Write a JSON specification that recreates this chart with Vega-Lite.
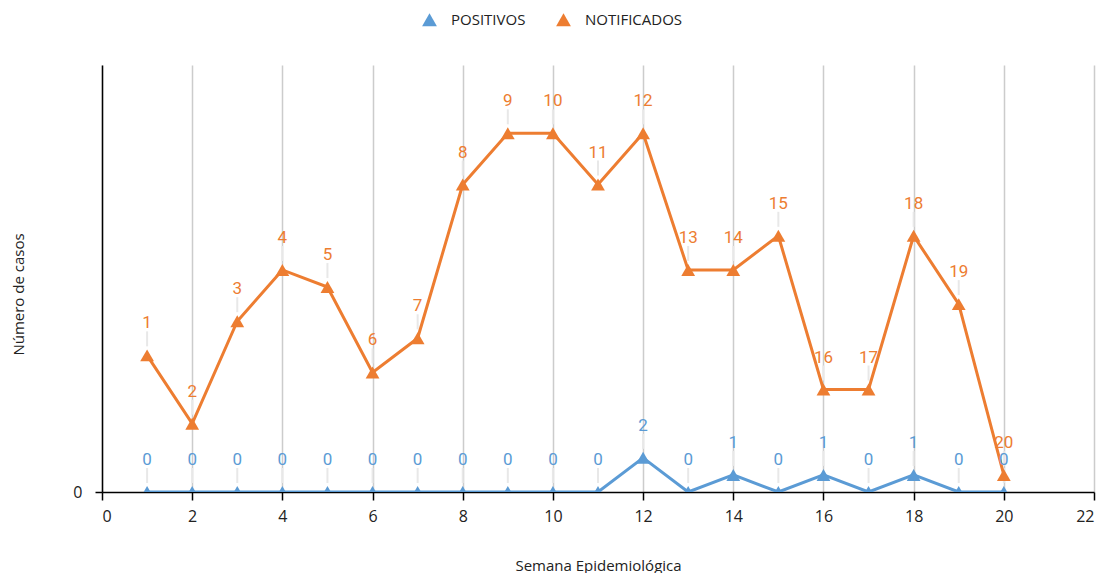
{
  "$schema": "https://vega.github.io/schema/vega-lite/v6.json",
  "width": 992,
  "height": 427,
  "autosize": {"type": "none"},
  "padding": {"left": 102, "top": 65, "right": 11, "bottom": 81},
  "background": "white",
  "config": {"view": {"stroke": null}, "font": "Open Sans"},
  "data": {"values": [
    {"semana": 1, "serie": "POSITIVOS", "valor": 0, "etiqueta": "0"},
    {"semana": 2, "serie": "POSITIVOS", "valor": 0, "etiqueta": "0"},
    {"semana": 3, "serie": "POSITIVOS", "valor": 0, "etiqueta": "0"},
    {"semana": 4, "serie": "POSITIVOS", "valor": 0, "etiqueta": "0"},
    {"semana": 5, "serie": "POSITIVOS", "valor": 0, "etiqueta": "0"},
    {"semana": 6, "serie": "POSITIVOS", "valor": 0, "etiqueta": "0"},
    {"semana": 7, "serie": "POSITIVOS", "valor": 0, "etiqueta": "0"},
    {"semana": 8, "serie": "POSITIVOS", "valor": 0, "etiqueta": "0"},
    {"semana": 9, "serie": "POSITIVOS", "valor": 0, "etiqueta": "0"},
    {"semana": 10, "serie": "POSITIVOS", "valor": 0, "etiqueta": "0"},
    {"semana": 11, "serie": "POSITIVOS", "valor": 0, "etiqueta": "0"},
    {"semana": 12, "serie": "POSITIVOS", "valor": 2, "etiqueta": "2"},
    {"semana": 13, "serie": "POSITIVOS", "valor": 0, "etiqueta": "0"},
    {"semana": 14, "serie": "POSITIVOS", "valor": 1, "etiqueta": "1"},
    {"semana": 15, "serie": "POSITIVOS", "valor": 0, "etiqueta": "0"},
    {"semana": 16, "serie": "POSITIVOS", "valor": 1, "etiqueta": "1"},
    {"semana": 17, "serie": "POSITIVOS", "valor": 0, "etiqueta": "0"},
    {"semana": 18, "serie": "POSITIVOS", "valor": 1, "etiqueta": "1"},
    {"semana": 19, "serie": "POSITIVOS", "valor": 0, "etiqueta": "0"},
    {"semana": 20, "serie": "POSITIVOS", "valor": 0, "etiqueta": "0"},
    {"semana": 1, "serie": "NOTIFICADOS", "valor": 8, "etiqueta": "1"},
    {"semana": 2, "serie": "NOTIFICADOS", "valor": 4, "etiqueta": "2"},
    {"semana": 3, "serie": "NOTIFICADOS", "valor": 10, "etiqueta": "3"},
    {"semana": 4, "serie": "NOTIFICADOS", "valor": 13, "etiqueta": "4"},
    {"semana": 5, "serie": "NOTIFICADOS", "valor": 12, "etiqueta": "5"},
    {"semana": 6, "serie": "NOTIFICADOS", "valor": 7, "etiqueta": "6"},
    {"semana": 7, "serie": "NOTIFICADOS", "valor": 9, "etiqueta": "7"},
    {"semana": 8, "serie": "NOTIFICADOS", "valor": 18, "etiqueta": "8"},
    {"semana": 9, "serie": "NOTIFICADOS", "valor": 21, "etiqueta": "9"},
    {"semana": 10, "serie": "NOTIFICADOS", "valor": 21, "etiqueta": "10"},
    {"semana": 11, "serie": "NOTIFICADOS", "valor": 18, "etiqueta": "11"},
    {"semana": 12, "serie": "NOTIFICADOS", "valor": 21, "etiqueta": "12"},
    {"semana": 13, "serie": "NOTIFICADOS", "valor": 13, "etiqueta": "13"},
    {"semana": 14, "serie": "NOTIFICADOS", "valor": 13, "etiqueta": "14"},
    {"semana": 15, "serie": "NOTIFICADOS", "valor": 15, "etiqueta": "15"},
    {"semana": 16, "serie": "NOTIFICADOS", "valor": 6, "etiqueta": "16"},
    {"semana": 17, "serie": "NOTIFICADOS", "valor": 6, "etiqueta": "17"},
    {"semana": 18, "serie": "NOTIFICADOS", "valor": 15, "etiqueta": "18"},
    {"semana": 19, "serie": "NOTIFICADOS", "valor": 11, "etiqueta": "19"},
    {"semana": 20, "serie": "NOTIFICADOS", "valor": 1, "etiqueta": "20"}
  ]},
  "encoding": {
    "x": {
      "field": "semana", "type": "quantitative",
      "scale": {"domain": [0, 22], "nice": false},
      "axis": {
        "values": [0, 2, 4, 6, 8, 10, 12, 14, 16, 18, 20, 22],
        "grid": true, "gridColor": "#cccccc", "gridWidth": 1.5,
        "domainColor": "#000000", "domainWidth": 1.5,
        "tickColor": "#000000", "tickSize": 8, "tickWidth": 1.5,
        "labelFontSize": 16, "labelColor": "#222222", "labelPadding": 8,
        "title": "Semana Epidemiológica", "titleFontSize": 15, "titleFontWeight": "normal",
        "titleColor": "#222222", "titleY": 73, "titleBaseline": "middle"
      }
    },
    "y": {
      "field": "valor", "type": "quantitative",
      "scale": {"domain": [0, 25], "nice": false},
      "axis": {
        "values": [0], "grid": false,
        "domainColor": "#000000", "domainWidth": 1.5,
        "tickColor": "#000000", "tickSize": 7, "tickWidth": 1.5,
        "labelFontSize": 16, "labelColor": "#222222", "labelPadding": 13,
        "title": "Número de casos", "titleFontSize": 15, "titleFontWeight": "normal",
        "titleColor": "#222222", "titleX": -84, "titleY": 229, "titleAngle": -90,
        "titleBaseline": "middle", "titleAlign": "center"
      }
    },
    "color": {
      "field": "serie", "type": "nominal",
      "scale": {"domain": ["POSITIVOS", "NOTIFICADOS"], "range": ["#5B9BD5", "#ED7D31"]},
      "legend": {
        "title": null, "orient": "none", "direction": "horizontal",
        "legendX": 320, "legendY": -53,
        "symbolType": "triangle-up", "symbolSize": 220, "symbolStrokeWidth": 0,
        "labelFontSize": 15, "labelColor": "#222222", "labelOffset": 14,
        "columnPadding": 30
      }
    }
  },
  "layer": [
    {
      "mark": {"type": "rule", "yOffset": -9, "y2Offset": -24, "strokeWidth": 2},
      "encoding": {"y2": {"field": "valor"}, "color": {"value": "#e8e8e8"}}
    },
    {"mark": {"type": "line", "strokeWidth": 3, "clip": true}},
    {"mark": {"type": "point", "shape": "triangle-up", "filled": true, "size": 190, "opacity": 1, "clip": true}},
    {
      "mark": {"type": "text", "dy": -32, "fontSize": 17, "font": "Roboto"},
      "encoding": {"text": {"field": "etiqueta"}}
    }
  ]
}
